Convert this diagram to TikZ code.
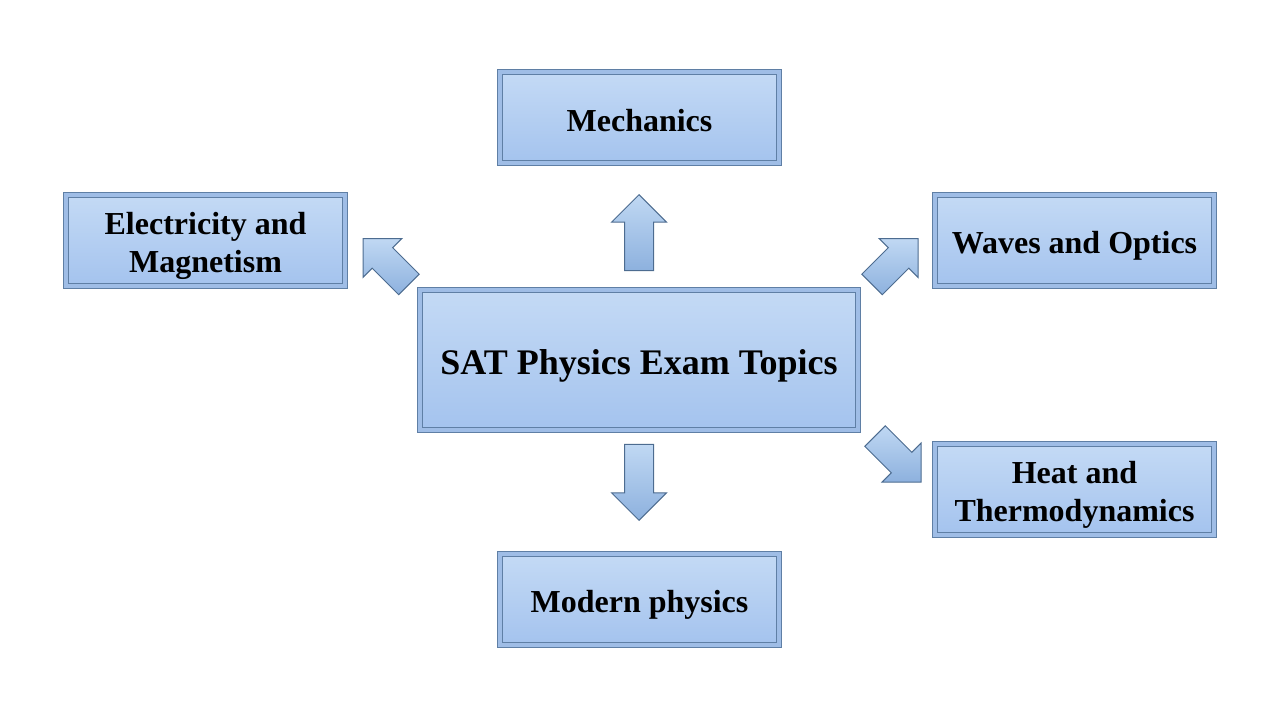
\documentclass[tikz,border=0pt]{standalone}
\usepackage{fontspec}
\setmainfont{Liberation Serif}
\usetikzlibrary{shapes.arrows}
\definecolor{boxtop}{HTML}{C4DAF5}
\definecolor{boxbot}{HTML}{A4C3EE}
\definecolor{boxedge}{HTML}{5F7FA5}
\definecolor{boxbevel}{HTML}{9FBDE6}
\definecolor{arrtop}{HTML}{C0D8F3}
\definecolor{arrbot}{HTML}{8DB1DE}
\definecolor{arredge}{HTML}{4D6C90}
\newcommand{\topictext}[1]{\raisebox{-6pt}[\height][\depth]{\begin{tabular}{@{}c@{}}#1\end{tabular}}}
\tikzset{
  topic/.style={draw=boxedge, line width=1pt, double=boxbevel, double distance=4pt,
    top color=boxtop, bottom color=boxbot, inner sep=0pt,
    minimum width=279, minimum height=91, font=\fontsize{32}{38}\selectfont\bfseries},
  blockarrow/.style={single arrow, draw=arredge, line width=1pt, top color=arrtop, bottom color=arrbot,
    inner xsep=0pt, inner ysep=14pt, minimum height=76, single arrow head extend=13pt, anchor=tip},
  diagarrow/.style={blockarrow, minimum height=65}
}
\begin{document}
\begin{tikzpicture}[x=1pt,y=-1pt]
      \useasboundingbox (0,0) rectangle (1280,720);
      % topic boxes
      \node[topic] (mech) at (639.5,117.5) {\topictext{Mechanics}};
      \node[topic] (elec) at (205.5,240) {\topictext{Electricity and\\Magnetism}};
      \node[topic] (waves) at (1074.5,240) {\topictext{Waves and Optics}};
      \node[topic] (heat) at (1074.5,489) {\topictext{Heat and\\Thermodynamics}};
      \node[topic] (modern) at (639.5,599) {\topictext{Modern physics}};
      \node[topic, minimum width=438, minimum height=140, font=\fontsize{36}{42}\selectfont\bfseries] (sat) at (639,360) {\topictext{SAT Physics Exam Topics}};
      % arrows
      \node[blockarrow, rotate=90] (toMech) at (639,194) {};
      \node[blockarrow, rotate=-90] (toModern) at (639,521) {};
      \node[diagarrow, rotate=135] (toElec) at (362.5,238) {};
      \node[diagarrow, rotate=45] (toWaves) at (918.5,238) {};
      \node[diagarrow, rotate=-45] (toHeat) at (921.5,482.5) {};
\end{tikzpicture}
\end{document}
